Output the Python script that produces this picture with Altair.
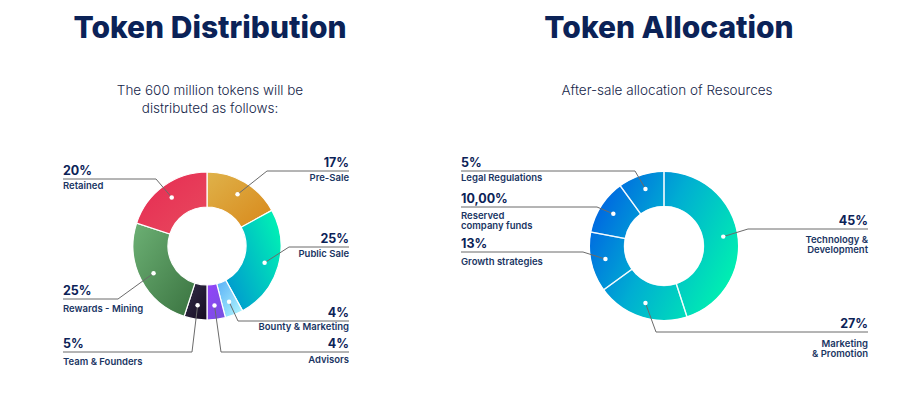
import math
import altair as alt
import pandas as pd

M = 8  # page margin (layout offset)
FONT = "Inter"
NAVY = "#0b2257"
LBL = "#1a3563"

# ---------------- data ----------------
dist_names = ["Pre-Sale", "Public Sale", "Bounty & Marketing", "Advisors",
              "Team & Founders", "Rewards - Mining", "Retained"]
dist_values = [17, 25, 4, 4, 5, 25, 20]
dist_pct = ["17%", "25%", "4%", "4%", "5%", "25%", "20%"]

alloc_names = ["Technology &\nDevelopment", "Marketing\n& Promotion", "Growth strategies",
               "Reserved\ncompany funds", "Legal Regulations"]
alloc_values = [45, 20, 13, 12, 10]          # slice sizes as drawn
alloc_pct = ["45%", "27%", "13%", "10,00%", "5%"]

# ---------------- layout ----------------
dist_elbow_x = [267, 289, 238, 221, 192, 118, 156]
dist_line_y = [171, 247, 321, 352, 352, 299, 179]
dist_end_x = [349, 349, 349, 349, 63, 63, 63]
dist_name_y = [181, 257, 330, 363, 365, 312, 189]
dist_side = ["r", "r", "r", "r", "l", "l", "l"]

alloc_elbow_x = [748, 656, 583, 597, 635]
alloc_line_y = [229, 332, 252, 207, 171]
alloc_end_x = [868, 868, 461, 461, 461]
alloc_name_y = [243, 347, 265, 219, 181]
alloc_side = ["r", "r", "l", "l", "l"]

LEFT_C = (207, 246)
RIGHT_C = (664, 246)
R_OUT, R_IN, R_DOT = 74, 39, 60

dist_grads = [
    ("#dfb24a", "#d8881a", 0, 0, 1, 1),
    ("#0090d2", "#00ecb6", 0, 1, 1, 0.3),
    ("#58aef6", "#b4faff", 0, 0, 1, 1),
    ("#9442fa", "#7552de", 0, 0, 1, 1),
    ("#34304a", "#160a22", 0, 0, 1, 1),
    ("#6cb074", "#3a7340", 0, 0, 1, 1),
    ("#e62a52", "#e84a5e", 0, 0, 1, 1),
]


def grad(c0, c1, x1, y1, x2, y2, mid=None):
    stops = [alt.GradientStop(color=c0, offset=0)]
    if mid:
        stops.append(alt.GradientStop(color=mid, offset=0.45))
    stops.append(alt.GradientStop(color=c1, offset=1))
    return alt.LinearGradient(gradient="linear", stops=stops, x1=x1, y1=y1, x2=x2, y2=y2)


def make_df(names, values, pct, ex, ly, endx, ny, side):
    return pd.DataFrame({
        "order": list(range(len(names))),
        "name": names, "value": values, "pct": pct,
        "elbow_x": [v - M for v in ex], "line_y": [v - M for v in ly],
        "end_x": [v - M for v in endx], "name_y": [v - M for v in ny],
        "side": side,
    })


dist_df = make_df(dist_names, dist_values, dist_pct, dist_elbow_x, dist_line_y,
                  dist_end_x, dist_name_y, dist_side)
alloc_df = make_df(alloc_names, alloc_values, alloc_pct, alloc_elbow_x, alloc_line_y,
                   alloc_end_x, alloc_name_y, alloc_side)

TH = alt.Scale(domain=[0, 100], range=[0, 2 * math.pi])


def base(df, c):
    cx, cy = c[0] - M, c[1] - M
    return alt.Chart(df).transform_window(
        end="sum(value)", sort=[alt.SortField("order")], frame=[None, 0]
    ).transform_calculate(
        start="datum.end - datum.value",
        ang="(datum.end - datum.value / 2) / 100 * 2 * PI",
    ).transform_calculate(
        dot_x=f"{cx} + {R_DOT} * sin(datum.ang)",
        dot_y=f"{cy} - {R_DOT} * cos(datum.ang)",
    )


def px(f):
    return alt.X(f"{f}:Q", scale=None, axis=None)


def py(f):
    return alt.Y(f"{f}:Q", scale=None, axis=None)


def annotations(df, c):
    b = base(df, c)
    seg1 = b.mark_rule(color="#6b6b6b", strokeWidth=1).encode(
        x=px("dot_x"), y=py("dot_y"), x2="elbow_x:Q", y2="line_y:Q")
    seg2 = b.mark_rule(color="#6b6b6b", strokeWidth=1).encode(
        x=px("elbow_x"), y=py("line_y"), x2="end_x:Q")
    dots = b.mark_circle(size=20, color="white", opacity=1).encode(
        x=px("dot_x"), y=py("dot_y"))
    layers = [seg1, seg2, dots]
    for side, al in (("r", "right"), ("l", "left")):
        s = b.transform_filter(alt.datum.side == side).transform_calculate(
            pct_y="datum.line_y - 4.5")
        layers.append(s.mark_text(align=al, baseline="alphabetic", font=FONT,
                                  fontSize=12.5, fontWeight=700, color=NAVY).encode(
            x=px("end_x"), y=py("pct_y"), text="pct:N"))
        layers.append(s.mark_text(align=al, baseline="alphabetic", font=FONT,
                                  fontSize=9.5, fontWeight=600, color=LBL,
                                  lineBreak="\n", lineHeight=10).encode(
            x=px("end_x"), y=py("name_y"), text="name:N"))
    return layers


# left donut: one gradient per slice
left_layers = []
for i, n in enumerate(dist_names):
    g = dist_grads[i]
    left_layers.append(
        base(dist_df, LEFT_C).transform_filter(alt.datum.name == n).mark_arc(
            radius=R_OUT, radius2=R_IN, color=grad(*g), stroke="white", strokeWidth=1.2
        ).encode(theta=alt.Theta("start:Q", scale=TH), theta2="end:Q",
                 x=alt.value(LEFT_C[0] - M), y=alt.value(LEFT_C[1] - M))
    )

# right donut: one continuous gradient ring + slice separators
ring = alt.Chart(alloc_df).transform_aggregate(total="sum(value)").transform_calculate(
    zero="0").mark_arc(
    radius=R_OUT, radius2=R_IN + 1,
    color=grad("#0062e2", "#00f5ae", 0, 0.25, 1, 0.75, mid="#00aed2")
).encode(theta=alt.Theta("zero:Q", scale=TH), theta2="total:Q",
         x=alt.value(RIGHT_C[0] - M), y=alt.value(RIGHT_C[1] - M))

seps = base(alloc_df, RIGHT_C).mark_arc(
    radius=R_OUT + 1, radius2=R_IN + 0.5, fillOpacity=0, stroke="white",
    strokeWidth=1.3, strokeOpacity=0.8
).encode(theta=alt.Theta("start:Q", scale=TH), theta2="end:Q",
         x=alt.value(RIGHT_C[0] - M), y=alt.value(RIGHT_C[1] - M))

# titles
titles_df = pd.DataFrame({
    "t": ["Token Distribution", "Token Allocation"],
    "x": [210 - M, 669 - M], "y": [38 - M, 38 - M],
})
titles = alt.Chart(titles_df).mark_text(
    font=FONT, fontSize=30, fontWeight=800, color=NAVY, align="center",
    baseline="alphabetic"
).encode(x=px("x"), y=py("y"), text="t:N")

subs_df = pd.DataFrame({
    "t": ["The 600 million tokens will be", "distributed as follows:",
          "After-sale allocation of Resources"],
    "x": [210 - M, 210 - M, 667 - M], "y": [95 - M, 113 - M, 95 - M],
})
subs = alt.Chart(subs_df).mark_text(
    font=FONT, fontSize=13.5, fontWeight=300, color="#16264a", align="center",
    baseline="alphabetic"
).encode(x=px("x"), y=py("y"), text="t:N")

layers = left_layers + [ring, seps] + annotations(dist_df, LEFT_C) + \
    annotations(alloc_df, RIGHT_C) + [titles, subs]

chart = alt.layer(*layers).properties(
    width=890, height=370, padding=0, autosize=alt.AutoSizeParams(type="none"),
    background="white"
).configure_view(stroke=None)

chart.save("out.html", embed_options={"renderer": "svg", "actions": False})
